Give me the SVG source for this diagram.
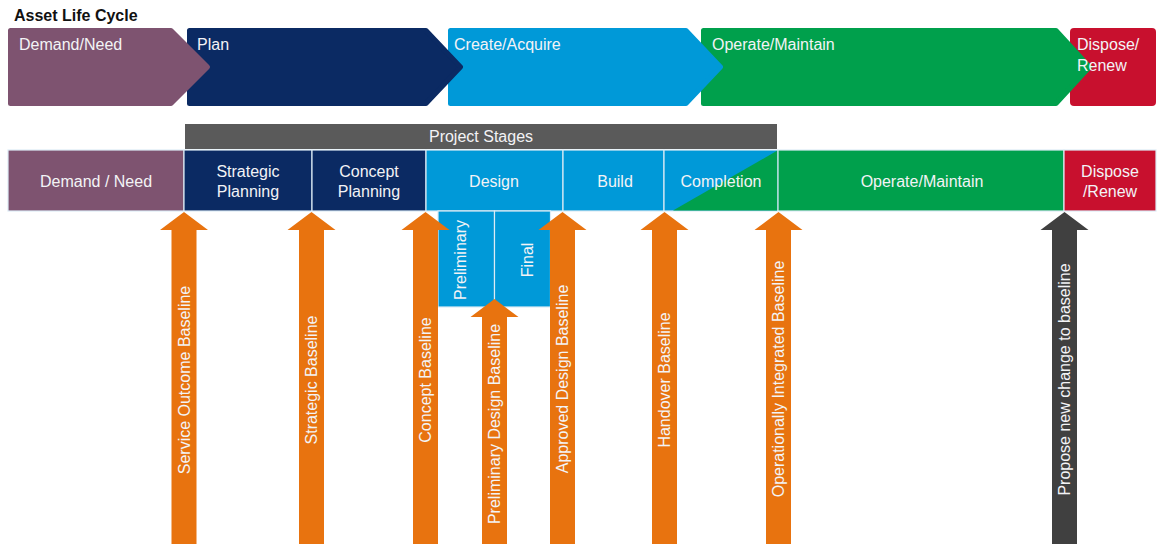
<svg xmlns="http://www.w3.org/2000/svg" width="1157" height="544" viewBox="0 0 1157 544">
<style>
text{font-family:"Liberation Sans",Arial,sans-serif;font-size:16px;fill:#F3F3F6}
.title{font-weight:bold;font-size:16px;fill:#111}
.mid{text-anchor:middle}
.chev{stroke-width:5;stroke-linejoin:round}
.cell{stroke:#DDEBF5;stroke-width:1.2}
.arr{fill:#E8730F}
.arrd{fill:#404040}
.purple{fill:#7E5370}
.navy{fill:#0B2A63}
.blue{fill:#0099D8}
.green{fill:#00A04C}
.red{fill:#C8102E}
</style>
<rect width="1157" height="544" fill="#fff"/>
<text class="title" x="14" y="21">Asset Life Cycle</text>

<g id="lifecycle">
  <g id="lc-dispose"><rect x="1070" y="28" width="86" height="78" rx="4" class="red"/></g>
  <g id="lc-operate"><path d="M703.5,30.5 H1056 L1089.5,67 L1056,103.5 H703.5 Z" class="chev green" stroke="#00A04C"/></g>
  <g id="lc-create"><path d="M450.5,30.5 H686 L720.5,67 L686,103.5 H450.5 Z" class="chev blue" stroke="#0099D8"/></g>
  <g id="lc-plan"><path d="M189.5,30.5 H426 L460.5,67 L426,103.5 H189.5 Z" class="chev navy" stroke="#0B2A63"/></g>
  <g id="lc-demand"><path d="M10.5,30.5 H171 L207.5,67 L171,103.5 H10.5 Z" class="chev purple" stroke="#7E5370"/></g>
  <text x="19" y="50">Demand/Need</text>
  <text x="197" y="50">Plan</text>
  <text x="454" y="50">Create/Acquire</text>
  <text x="712" y="50">Operate/Maintain</text>
  <text x="1077" y="50">Dispose/</text>
  <text x="1077" y="71">Renew</text>
</g>

<g id="project-stages">
  <rect x="185" y="124" width="592" height="25" fill="#5A5A5A"/>
  <text class="mid" x="481" y="142">Project Stages</text>
</g>

<g id="stages">
  <g id="st-demand"><rect x="8" y="150" width="176" height="61" class="cell purple"/><text class="mid" x="96" y="187">Demand / Need</text></g>
  <g id="st-strategic"><rect x="184" y="150" width="128" height="61" class="cell navy"/><text class="mid" x="248" y="177">Strategic</text><text class="mid" x="248" y="197">Planning</text></g>
  <g id="st-concept"><rect x="312" y="150" width="114" height="61" class="cell navy"/><text class="mid" x="369" y="177">Concept</text><text class="mid" x="369" y="197">Planning</text></g>
  <g id="st-design"><rect x="426" y="150" width="137" height="61" class="cell blue"/><text class="mid" x="494" y="187">Design</text></g>
  <g id="st-build"><rect x="563" y="150" width="101" height="61" class="cell blue"/><text class="mid" x="615" y="187">Build</text></g>
  <g id="st-completion"><rect x="664" y="150" width="114" height="61" class="cell blue"/><polygon points="673,210.4 777.4,150.6 777.4,210.4" class="green"/><text class="mid" x="721" y="187">Completion</text></g>
  <g id="st-operate"><rect x="778" y="150" width="286" height="61" class="cell green"/><text class="mid" x="922" y="187">Operate/Maintain</text></g>
  <g id="st-dispose"><rect x="1064" y="150" width="92" height="61" class="cell red"/><text class="mid" x="1110" y="177">Dispose</text><text class="mid" x="1110" y="197">/Renew</text></g>
  <g id="st-preliminary"><rect x="438" y="211" width="56.5" height="96" class="cell blue"/><text class="mid" transform="translate(466,260) rotate(-90)">Preliminary</text></g>
  <g id="st-final"><rect x="494.5" y="211" width="56" height="96" class="cell blue"/><text class="mid" transform="translate(533,260) rotate(-90)">Final</text></g>
</g>

<g id="connectors">
  <g id="a-service"><path class="arr" d="M184,212 L208,230 H196.5 V544 H171.5 V230 H160 Z"/><text class="mid" transform="translate(184.5,380) rotate(-90)" dy="0.35em">Service Outcome Baseline</text></g>
  <g id="a-strategic"><path class="arr" d="M311.5,212 L335.5,230 H324 V544 H299 V230 H287.5 Z"/><text class="mid" transform="translate(311.5,380) rotate(-90)" dy="0.35em">Strategic Baseline</text></g>
  <g id="a-concept"><path class="arr" d="M425.5,212 L449.5,230 H438 V544 H413 V230 H401.5 Z"/><text class="mid" transform="translate(425.5,380) rotate(-90)" dy="0.35em">Concept Baseline</text></g>
  <g id="a-prelim"><path class="arr" d="M494.5,299 L518.5,317 H507 V544 H482 V317 H470.5 Z"/><text class="mid" transform="translate(494.5,424) rotate(-90)" dy="0.35em">Preliminary Design Baseline</text></g>
  <g id="a-approved"><path class="arr" d="M562.5,212 L586.5,230 H575 V544 H550 V230 H538.5 Z"/><text class="mid" transform="translate(562.5,379) rotate(-90)" dy="0.35em">Approved Design Baseline</text></g>
  <g id="a-handover"><path class="arr" d="M664.5,212 L688.5,230 H677 V544 H652 V230 H640.5 Z"/><text class="mid" transform="translate(664.5,380) rotate(-90)" dy="0.35em">Handover Baseline</text></g>
  <g id="a-operational"><path class="arr" d="M778.5,212 L802.5,230 H791 V544 H766 V230 H754.5 Z"/><text class="mid" transform="translate(778.5,379) rotate(-90)" dy="0.35em">Operationally Integrated Baseline</text></g>
  <g id="a-propose"><path class="arrd" d="M1064.5,212 L1088.5,230 H1077 V544 H1052 V230 H1040.5 Z"/><text class="mid" transform="translate(1064.5,379.5) rotate(-90)" dy="0.35em">Propose new change to baseline</text></g>
</g>
</svg>
